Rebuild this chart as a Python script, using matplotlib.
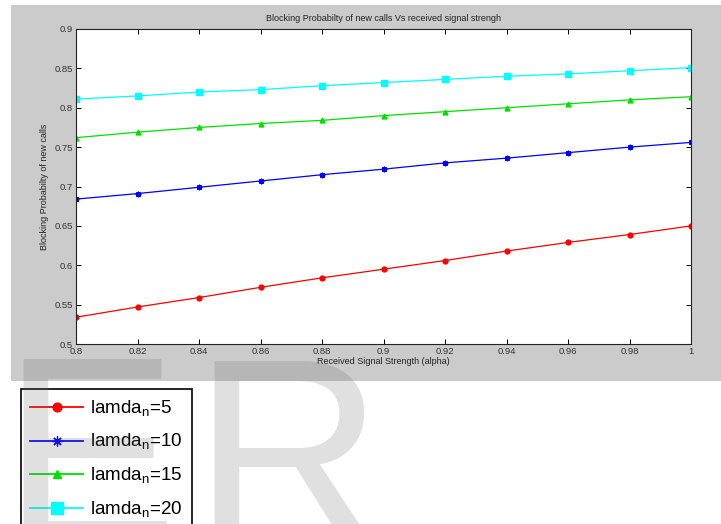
import matplotlib
matplotlib.use('Agg')
import matplotlib.pyplot as plt
from matplotlib.patches import Rectangle

plt.rcParams['font.family'] = 'Liberation Sans'
plt.rcParams['mathtext.fontset'] = 'custom'
plt.rcParams['mathtext.rm'] = 'Liberation Sans'

# received signal strength (alpha)
alpha = [0.80, 0.82, 0.84, 0.86, 0.88, 0.90, 0.92, 0.94, 0.96, 0.98, 1.00]

# blocking probability of new calls for each lamda_n
pb_5 = [0.534, 0.547, 0.559, 0.572, 0.584, 0.595, 0.606, 0.618, 0.629, 0.639, 0.650]
pb_10 = [0.684, 0.691, 0.699, 0.707, 0.715, 0.722, 0.730, 0.736, 0.743, 0.750, 0.756]
pb_15 = [0.762, 0.769, 0.775, 0.780, 0.784, 0.790, 0.795, 0.800, 0.805, 0.810, 0.814]
pb_20 = [0.811, 0.815, 0.820, 0.823, 0.828, 0.832, 0.836, 0.840, 0.843, 0.847, 0.851]

labels = ['lamda$_\\mathrm{n}$=5', 'lamda$_\\mathrm{n}$=10',
          'lamda$_\\mathrm{n}$=15', 'lamda$_\\mathrm{n}$=20']

W, H = 721, 524
fig = plt.figure(figsize=(W / 100, H / 100), dpi=100)

# matlab figure background (grey panel)
fig.patches.append(Rectangle((11 / W, 1 - 381 / H), (W - 11) / W, (381 - 5) / H,
                             transform=fig.transFigure, facecolor='#cbcbcb',
                             edgecolor='none', zorder=-1))

ax = fig.add_axes([76 / W, 1 - 344 / H, (691 - 76) / W, (344 - 29) / H])
ax.set_facecolor('white')

asterisk = (8, 2, 0)  # matlab style '*'
l1 = ax.plot(alpha, pb_5, color='#ff0000', marker='o', markersize=3.5, lw=0.9, label=labels[0])
l2 = ax.plot(alpha, pb_10, color='#0000ff', marker=asterisk, markersize=4, mew=0.9, lw=0.9,
             label=labels[1])
l3 = ax.plot(alpha, pb_15, color='#00e000', marker='^', markersize=3.5, lw=0.9, label=labels[2])
l4 = ax.plot(alpha, pb_20, color='#00ffff', marker='s', markersize=4.5, lw=0.9, label=labels[3])

ax.set_xlim(0.8, 1.0)
ax.set_ylim(0.5, 0.9)
ax.set_xticks([0.8, 0.82, 0.84, 0.86, 0.88, 0.9, 0.92, 0.94, 0.96, 0.98, 1.0])
ax.set_xticklabels(['0.8', '0.82', '0.84', '0.86', '0.88', '0.9', '0.92', '0.94', '0.96', '0.98', '1'])
ax.set_yticks([0.5, 0.55, 0.6, 0.65, 0.7, 0.75, 0.8, 0.85, 0.9])
ax.set_yticklabels(['0.5', '0.55', '0.6', '0.65', '0.7', '0.75', '0.8', '0.85', '0.9'])
ax.tick_params(direction='in', top=True, right=True, length=3.5, width=0.7,
               labelsize=6.8, labelcolor='#333333', pad=2)
for s in ax.spines.values():
    s.set_linewidth(0.8)
    s.set_color('#222222')

ax.set_title('Blocking Probabilty of new calls Vs received signal strengh',
             fontsize=6.5, color='#222222', pad=5.5)
ax.set_xlabel('Received Signal Strength (alpha)', fontsize=6.5, color='#222222', labelpad=1)
ax.set_ylabel('Blocking Probabilty of new calls', fontsize=6.5, color='#222222', labelpad=4)

lns = l1 + l2 + l3 + l4
leg = fig.legend(lns, [l.get_label() for l in lns], loc='upper left',
                 bbox_to_anchor=(21 / W, 1 - 389 / H), borderaxespad=0,
                 fontsize=13.5, handlelength=2.8, handletextpad=0.4, borderpad=0.5,
                 labelspacing=0.72, fancybox=False, edgecolor='black', framealpha=1,
                 markerscale=1.8)
leg.get_frame().set_linewidth(1.2)
for h in leg.legend_handles:
    h.set_linewidth(1.3)

# watermark letters
wm = dict(fontsize=190, color='#646464', alpha=0.2, va='baseline', ha='left', zorder=10)
fig.text(1 / W, 1 - 541 / H, 'E', **wm)
fig.text(192 / W, 1 - 541 / H, 'R', **wm)

fig.savefig('out.png', dpi=100)
